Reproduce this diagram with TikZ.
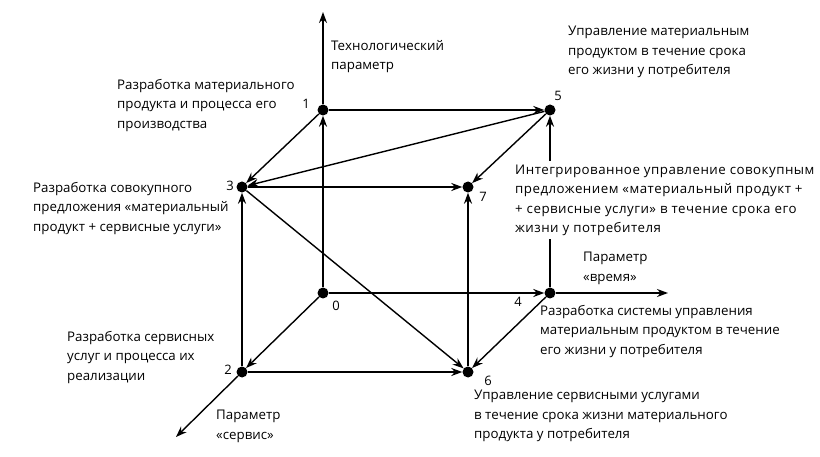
\documentclass[tikz,border=0pt]{standalone}
\usepackage{fontspec}
\setmainfont{Open Sans}
\usetikzlibrary{arrows.meta}
\begin{document}
\begin{tikzpicture}[x=1pt,y=-1pt,
  dot/.style={circle,fill=black,inner sep=0pt,minimum size=11pt},
  lbl/.style={anchor=north west,inner sep=0pt,align=left,font=\fontsize{13.3}{19.4}\selectfont},
  num/.style={inner sep=0pt,font=\fontsize{13}{15}\selectfont},
  edge/.style={line width=2pt,-{Stealth[length=11pt,width=8pt]}},
  diag/.style={line width=1.4pt,-{Stealth[length=11pt,width=8pt]}}]
\useasboundingbox (0,0) rectangle (820,457);
\node[dot] (n0) at (323,293) {};
\node[dot] (n1) at (323,110) {};
\node[dot] (n5) at (550,110) {};
\node[dot] (n4) at (550,293) {};
\node[dot] (n3) at (242,187) {};
\node[dot] (n7) at (468,187) {};
\node[dot] (n2) at (242,372) {};
\node[dot] (n6) at (468,372) {};
\coordinate (top) at (323,12);
\coordinate (right) at (668,293);
\coordinate (sw) at (176,437);
% axes
\draw[edge] (n0) -- (n1);
\draw[edge] (n1) -- (top);
\draw[edge] (n0) -- (n4);
\draw[edge] (n4) -- (right);
\draw[diag] (n0) -- (n2);
\draw[diag] (n2) -- (sw);
% cube
\draw[edge] (n1) -- (n5);
\draw[diag] (n1) -- (n3);
\draw[diag] (n5) -- (n3);
\draw[diag] (n5) -- (n7);
\draw[edge] (n3) -- (n7);
\draw[diag] (n3) -- (n6);
\draw[edge] (n2) -- (n3);
\draw[edge] (n2) -- (n6);
\draw[diag] (n4) -- (n6);
\draw[edge] (n6) -- (n7);
\draw[edge] (n4) -- (n5);
% labels
\node[lbl] (tech) at (331,40) {Технологический\\параметр};
\node[lbl] (r1) at (117,79) {Разработка материального\\продукта и процесса его\\производства};
\node[lbl] (r3) at (33,182) {Разработка совокупного\\предложения «материальный\\продукт + сервисные услуги»};
\node[lbl] (u5) at (568,26) {Управление материальным\\продуктом в течение срока\\его жизни у потребителя};
\node[lbl,fill=white,inner sep=4pt,font=\fontsize{13.3}{19.2}\selectfont\addfontfeatures{LetterSpace=3.7}] (int) at (511,161) {Интегрированное управление совокупным\\предложением «материальный продукт +\\+ сервисные услуги» в течение срока его\\жизни у потребителя};
\node[lbl] (time) at (583,252) {Параметр\\«время»};
\node[lbl] (r4) at (540,305) {Разработка системы управления\\материальным продуктом в течение\\его жизни у потребителя};
\node[lbl] (r2) at (67,331) {Разработка сервисных\\услуг и процесса их\\реализации};
\node[lbl] (serv) at (216,410) {Параметр\\«сервис»};
\node[lbl] (u6) at (474,390) {Управление сервисными услугами\\в течение срока жизни материального\\продукта у потребителя};
% numbers
\node[num] (l1) at (306,104) {1};
\node[num] (l3) at (230,186) {3};
\node[num] (l5) at (558,96) {5};
\node[num] (l7) at (483,197) {7};
\node[num] (l0) at (336,306) {0};
\node[num] (l4) at (518,302) {4};
\node[num] (l2) at (228,370) {2};
\node[num] (l6) at (488,381) {6};
\end{tikzpicture}
\end{document}
